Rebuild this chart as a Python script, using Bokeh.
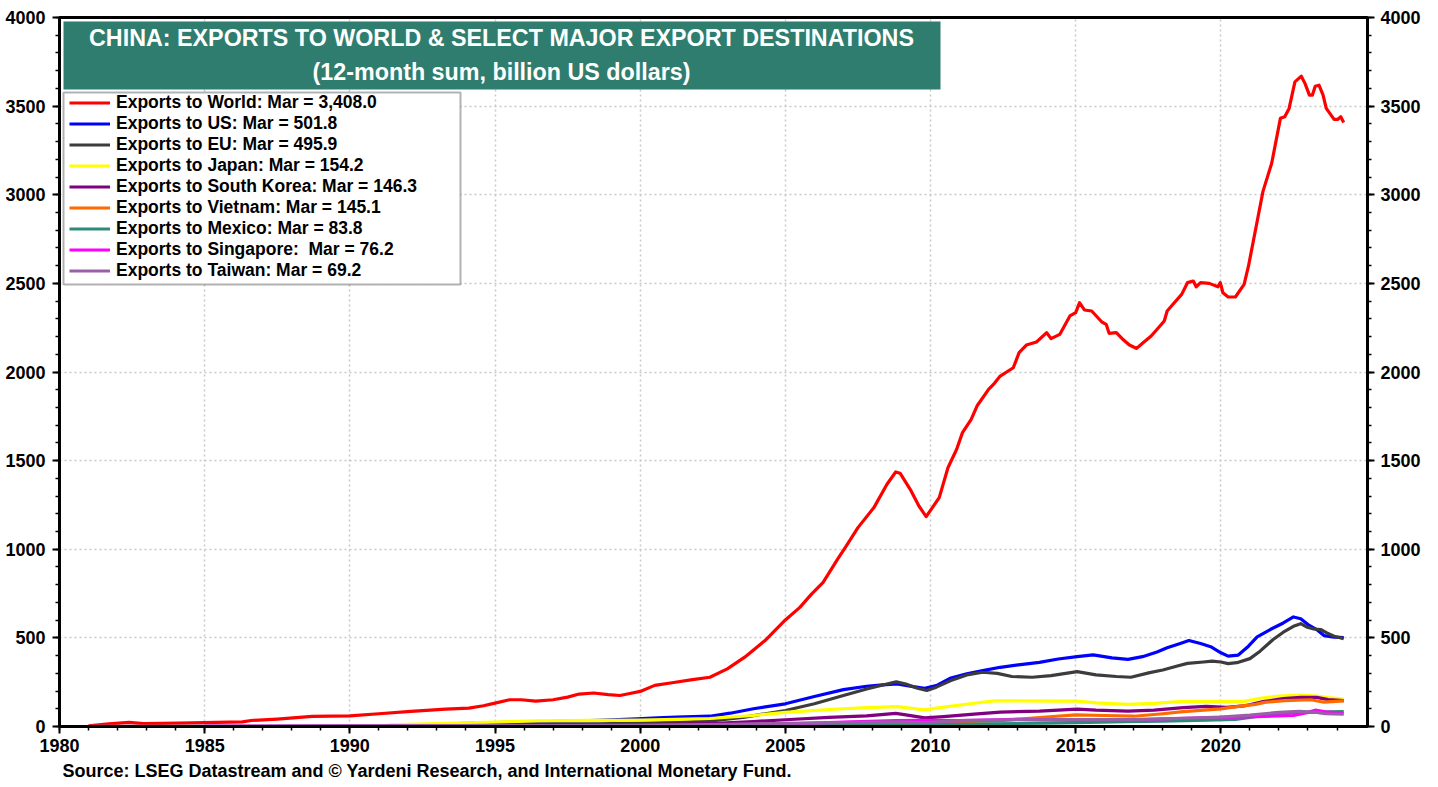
from bokeh.plotting import figure
from bokeh.models import (Range1d, LinearAxis, FixedTicker, SingleIntervalTicker,
                          BoxAnnotation, Label, Legend, LegendItem, Title)
from bokeh.embed import file_html
from bokeh.resources import INLINE

# ---------------- data (12-month sum, billion US$) ----------------
world_t = [1981.0, 1981.7, 1982.4, 1982.9, 1984.1, 1986.3, 1986.6, 1987.5, 1988.7, 1990.0,
           1991.0, 1992.1, 1993.3, 1994.1, 1994.6, 1995.0, 1995.5, 1995.9, 1996.4, 1997.0,
           1997.5, 1997.9, 1998.4, 1998.9, 1999.3, 1999.6, 2000.0, 2000.5, 2001.1, 2001.8,
           2002.4, 2003.0, 2003.6, 2004.3, 2005.0, 2005.5, 2005.9, 2006.3, 2006.8, 2007.1,
           2007.5, 2008.05, 2008.5, 2008.8, 2008.95, 2009.3, 2009.6, 2009.85, 2010.3, 2010.6,
           2010.9, 2011.1, 2011.4, 2011.6, 2012.0, 2012.2, 2012.4, 2012.85, 2013.05, 2013.3,
           2013.65, 2014.0, 2014.15, 2014.45, 2014.8, 2015.0, 2015.13, 2015.3, 2015.55, 2015.9,
           2016.05, 2016.15, 2016.4, 2016.6, 2016.85, 2017.1, 2017.3, 2017.6, 2017.85, 2018.05,
           2018.15, 2018.35, 2018.65, 2018.85, 2019.05, 2019.15, 2019.3, 2019.6, 2019.9, 2019.98,
           2020.07, 2020.25, 2020.5, 2020.8, 2020.95, 2021.15, 2021.45, 2021.75, 2022.05, 2022.2,
           2022.35, 2022.55, 2022.77, 2022.9, 2023.05, 2023.15, 2023.25, 2023.38, 2023.52, 2023.63,
           2023.9, 2024.02, 2024.13, 2024.23]
world_v = [4, 15, 23, 16, 19, 26, 34, 42, 57, 60,
           72, 85, 98, 104, 117, 132, 151, 151, 143, 151,
           166, 183, 189, 180, 175, 185, 198, 232, 247, 264,
           278, 325, 391, 485, 601, 672, 747, 813, 944, 1019,
           1122, 1235, 1367, 1436, 1429, 1338, 1244, 1184, 1291, 1460,
           1564, 1658, 1733, 1808, 1902, 1936, 1977, 2024, 2109, 2152,
           2169, 2222, 2188, 2212, 2316, 2335, 2391, 2350, 2344, 2282,
           2269, 2218, 2222, 2188, 2152, 2133, 2162, 2203, 2250, 2288,
           2344, 2382, 2438, 2504, 2513, 2481, 2504, 2500, 2481, 2504,
           2447, 2423, 2423, 2494, 2597, 2766, 3019, 3178, 3431, 3440,
           3487, 3637, 3669, 3627, 3562, 3562, 3612, 3618, 3562, 3487,
           3425, 3425, 3440, 3408]

us_t = [1992.5, 1993.5, 1994.5, 1996.0, 1997.5, 1998.6, 1999.9, 2000.6, 2001.25, 2002.4,
        2003.1, 2003.9, 2005.0, 2006.0, 2007.0, 2007.8, 2008.35, 2008.85, 2009.4, 2009.8,
        2010.2, 2010.7, 2011.25, 2011.8, 2012.4, 2013.1, 2013.75, 2014.4, 2015.05, 2015.6,
        2016.25, 2016.8, 2017.3, 2017.8, 2018.15, 2018.6, 2018.9, 2019.3, 2019.65, 2020.0,
        2020.25, 2020.6, 2020.95, 2021.25, 2021.7, 2022.15, 2022.5, 2022.75, 2023.0, 2023.3,
        2023.55, 2023.9, 2024.23]
us_v = [8, 15, 20, 24, 30, 34, 43, 49, 53, 58,
        75, 100, 128, 169, 208, 227, 235, 240, 225, 216,
        231, 274, 297, 315, 334, 349, 362, 381, 394, 404,
        387, 379, 394, 420, 444, 468, 485, 468, 450, 416,
        397, 403, 453, 506, 547, 584, 618, 608, 575, 547,
        513, 504, 502]

eu_t = [1993.0, 1995.0, 1997.0, 1998.6, 2000.0, 2001.25, 2002.6, 2003.6, 2005.0, 2006.0,
        2007.0, 2007.8, 2008.5, 2008.82, 2009.15, 2009.55, 2009.87, 2010.2, 2010.7, 2011.25,
        2011.8, 2012.3, 2012.8, 2013.5, 2014.15, 2015.05, 2015.7, 2016.4, 2016.9, 2017.55,
        2018.0, 2018.5, 2018.85, 2019.4, 2019.7, 2020.0, 2020.25, 2020.55, 2021.0, 2021.35,
        2021.8, 2022.15, 2022.5, 2022.75, 2022.95, 2023.2, 2023.45, 2023.65, 2023.9, 2024.23]
eu_v = [5, 9, 13, 15, 19, 24, 34, 53, 90, 128,
        175, 212, 240, 252, 240, 216, 203, 222, 259, 291,
        306, 300, 282, 278, 287, 310, 291, 282, 278, 304,
        319, 341, 356, 364, 369, 364, 355, 360, 383, 425,
        491, 532, 565, 580, 562, 550, 547, 528, 509, 496]

jp_t = [1991.3, 1993.0, 1995.0, 1996.5, 1998.6, 2000.0, 2001.25, 2002.4, 2003.9, 2005.0,
        2006.5, 2007.8, 2008.85, 2009.8, 2010.45, 2011.5, 2012.2, 2013.1, 2014.4, 2015.05,
        2015.7, 2016.8, 2017.7, 2018.7, 2019.9, 2020.8, 2021.35, 2021.9, 2022.5, 2022.8,
        2023.3, 2023.7, 2024.23]
jp_v = [10, 16, 25, 32, 34, 36, 40, 45, 62, 80,
        96, 106, 112, 94, 109, 131, 145, 145, 143, 143,
        133, 125, 131, 142, 142, 142, 159, 170, 176, 177,
        172, 163, 154]

kr_t = [1992.5, 1995.0, 1998.6, 2000.0, 2001.25, 2002.6, 2003.9, 2005.0, 2006.5, 2007.8,
        2008.8, 2009.15, 2009.8, 2010.45, 2011.5, 2012.4, 2013.75, 2015.05, 2015.7, 2016.8,
        2017.7, 2018.7, 2019.5, 2020.2, 2020.8, 2021.45, 2022.15, 2022.75, 2023.3, 2023.7,
        2024.23]
kr_v = [3, 6, 8, 11, 13, 18, 28, 38, 52, 60,
        74, 66, 49, 56, 70, 81, 87, 98, 92, 87,
        92, 106, 113, 108, 116, 140, 158, 164, 164, 152,
        146]

vn_t = [1994.0, 1997.0, 2000.0, 2003.0, 2005.0, 2007.0, 2008.5, 2009.5, 2010.5, 2011.5,
        2012.5, 2013.3, 2014.1, 2015.0, 2016.0, 2017.0, 2018.0, 2018.7, 2020.0, 2020.8,
        2021.2, 2021.5, 2022.2, 2023.1, 2023.55, 2024.23]
vn_v = [1, 1.5, 2, 3, 6, 12, 15, 16, 23, 29,
        34, 45, 55, 66, 62, 58, 72, 84, 99, 118,
        125, 136, 146, 151, 137, 145]

mx_t = [1995.0, 2000.0, 2003.0, 2005.0, 2008.0, 2010.0, 2012.0, 2014.0, 2015.0, 2016.7,
        2018.0, 2019.5, 2020.5, 2021.5, 2022.5, 2023.3, 2024.23]
mx_v = [0.5, 1.5, 3, 5, 8, 10, 15, 19, 22, 27,
        30, 36, 40, 62, 77, 81, 84]

sg_t = [1985.0, 1990.0, 1995.0, 2000.0, 2003.0, 2005.0, 2007.0, 2008.8, 2009.8, 2011.0,
        2013.0, 2015.0, 2017.0, 2018.5, 2020.0, 2021.2, 2022.5, 2023.0, 2023.25, 2023.6,
        2024.23]
sg_v = [2, 3, 4, 6, 8, 14, 25, 33, 34, 33,
        40, 36, 38, 45, 52, 56, 62, 80, 92, 83,
        76]

tw_t = [1981.0, 1985.0, 1990.0, 1995.0, 2000.0, 2003.0, 2005.0, 2008.8, 2009.8, 2011.0,
        2013.0, 2015.0, 2017.0, 2019.0, 2020.0, 2021.0, 2022.0, 2022.7, 2023.3, 2023.6,
        2024.23]
tw_v = [1, 2, 4, 5, 7, 12, 18, 26, 22, 33,
        38, 39, 39, 48, 53, 64, 80, 85, 80, 72,
        69]

series_labels = ["Exports to World: Mar = 3,408.0",
                 "Exports to US: Mar = 501.8",
                 "Exports to EU: Mar = 495.9",
                 "Exports to Japan: Mar = 154.2",
                 "Exports to South Korea: Mar = 146.3",
                 "Exports to Vietnam: Mar = 145.1",
                 "Exports to Mexico: Mar = 83.8",
                 "Exports to Singapore:  Mar = 76.2",
                 "Exports to Taiwan: Mar = 69.2"]
series_colors = ["#FF0000", "#0000FF", "#3C3C3C", "#FFFF00", "#800080",
                 "#FF6A00", "#2E8B7A", "#FF00FF", "#9960A8"]
series_data = [(world_t, world_v), (us_t, us_v), (eu_t, eu_v), (jp_t, jp_v), (kr_t, kr_v),
               (vn_t, vn_v), (mx_t, mx_v), (sg_t, sg_v), (tw_t, tw_v)]

x_ticks = [1980, 1985, 1990, 1995, 2000, 2005, 2010, 2015, 2020]
x_minor = list(range(1980, 2025))

title_1 = "CHINA: EXPORTS TO WORLD & SELECT MAJOR EXPORT DESTINATIONS"
title_2 = "(12-month sum, billion US dollars)"
source = "Source: LSEG Datastream and \u00a9 Yardeni Research, and International Monetary Fund."

# ---------------- layout ----------------
W, H = 1436, 787
BL, BT = 59, 17
FW, FH = 1308, 709
BR, BB = W - BL - FW, H - BT - FH
X0, X1 = 1980.0, 2025.05
Y0, Y1 = 0.0, 4000.0
FONT = "Liberation Sans"


def fx(px):
    return X0 + px * (X1 - X0) / FW


def fy(px):
    return Y1 - px * (Y1 - Y0) / FH


p = figure(width=W, height=H, x_range=Range1d(X0, X1), y_range=Range1d(Y0, Y1),
           output_backend="svg", toolbar_location=None,
           min_border_left=BL, min_border_right=BR, min_border_top=BT, min_border_bottom=BB,
           background_fill_color="white", border_fill_color="white")

p.outline_line_color = "black"
p.outline_line_width = 3

p.xaxis.ticker = FixedTicker(ticks=x_ticks, minor_ticks=x_minor)
p.yaxis.ticker = SingleIntervalTicker(interval=500, num_minor_ticks=5)
right_axis = LinearAxis(ticker=SingleIntervalTicker(interval=500, num_minor_ticks=5))
p.add_layout(right_axis, "right")

for ax in p.xaxis + p.yaxis:
    ax.axis_line_width = 3
    ax.axis_line_color = "black"
    ax.major_tick_line_width = 2
    ax.minor_tick_line_width = 1.5
    ax.major_tick_out = 7
    ax.major_tick_in = 0
    ax.minor_tick_out = 4
    ax.minor_tick_in = 0
    ax.major_label_text_font = FONT
    ax.major_label_text_font_style = "bold"
    ax.major_label_text_font_size = "18px"
    ax.major_label_text_color = "black"
p.xaxis.major_label_standoff = 5
p.yaxis.major_label_standoff = 7
right_axis.major_label_standoff = 6

p.xgrid.ticker = FixedTicker(ticks=x_ticks)
for g in (p.xgrid, p.ygrid):
    g.grid_line_color = "#c8c8c8"
    g.grid_line_dash = "2 3"
    g.grid_line_width = 1.5

renderers = []
for (t, v), c in zip(series_data, series_colors):
    r = p.line(t, v, line_color=c, line_width=3.2, line_join="round")
    renderers.append(r)

# title box
p.add_layout(BoxAnnotation(left=fx(4), right=fx(881), top=fy(4), bottom=fy(72),
                           fill_color="#2E7D6E", fill_alpha=1.0, line_color=None))
p.add_layout(Label(x=fx(442), y=fy(20), text=title_1, text_align="center",
                   text_baseline="middle", text_color="white", text_font=FONT,
                   text_font_style="bold", text_font_size="23.3px"))
p.add_layout(Label(x=fx(442), y=fy(54), text=title_2, text_align="center",
                   text_baseline="middle", text_color="white", text_font=FONT,
                   text_font_style="bold", text_font_size="23.3px"))

# legend box + legend
p.add_layout(BoxAnnotation(left=fx(4), right=fx(401), top=fy(75), bottom=fy(267),
                           fill_color="white", fill_alpha=1.0, line_color="black",
                           line_width=2))
items = [LegendItem(label=lab, renderers=[r]) for lab, r in zip(series_labels, renderers)]
legend = Legend(items=items, location=(5, 440), orientation="vertical",
                background_fill_alpha=0.0, border_line_alpha=0.0,
                padding=5, spacing=0, margin=0,
                label_height=21, glyph_height=21, glyph_width=41, label_standoff=6,
                label_text_font=FONT, label_text_font_style="bold",
                label_text_font_size="17.5px", label_text_color="black",
                label_text_baseline="middle")
p.add_layout(legend)

# source note (below the x axis)
src = Title(text=source, align="left", offset=3, standoff=9,
            text_font=FONT, text_font_style="bold", text_font_size="18px",
            text_color="black")
p.add_layout(src, "below")

open("out.html", "w").write(file_html(p, INLINE))
